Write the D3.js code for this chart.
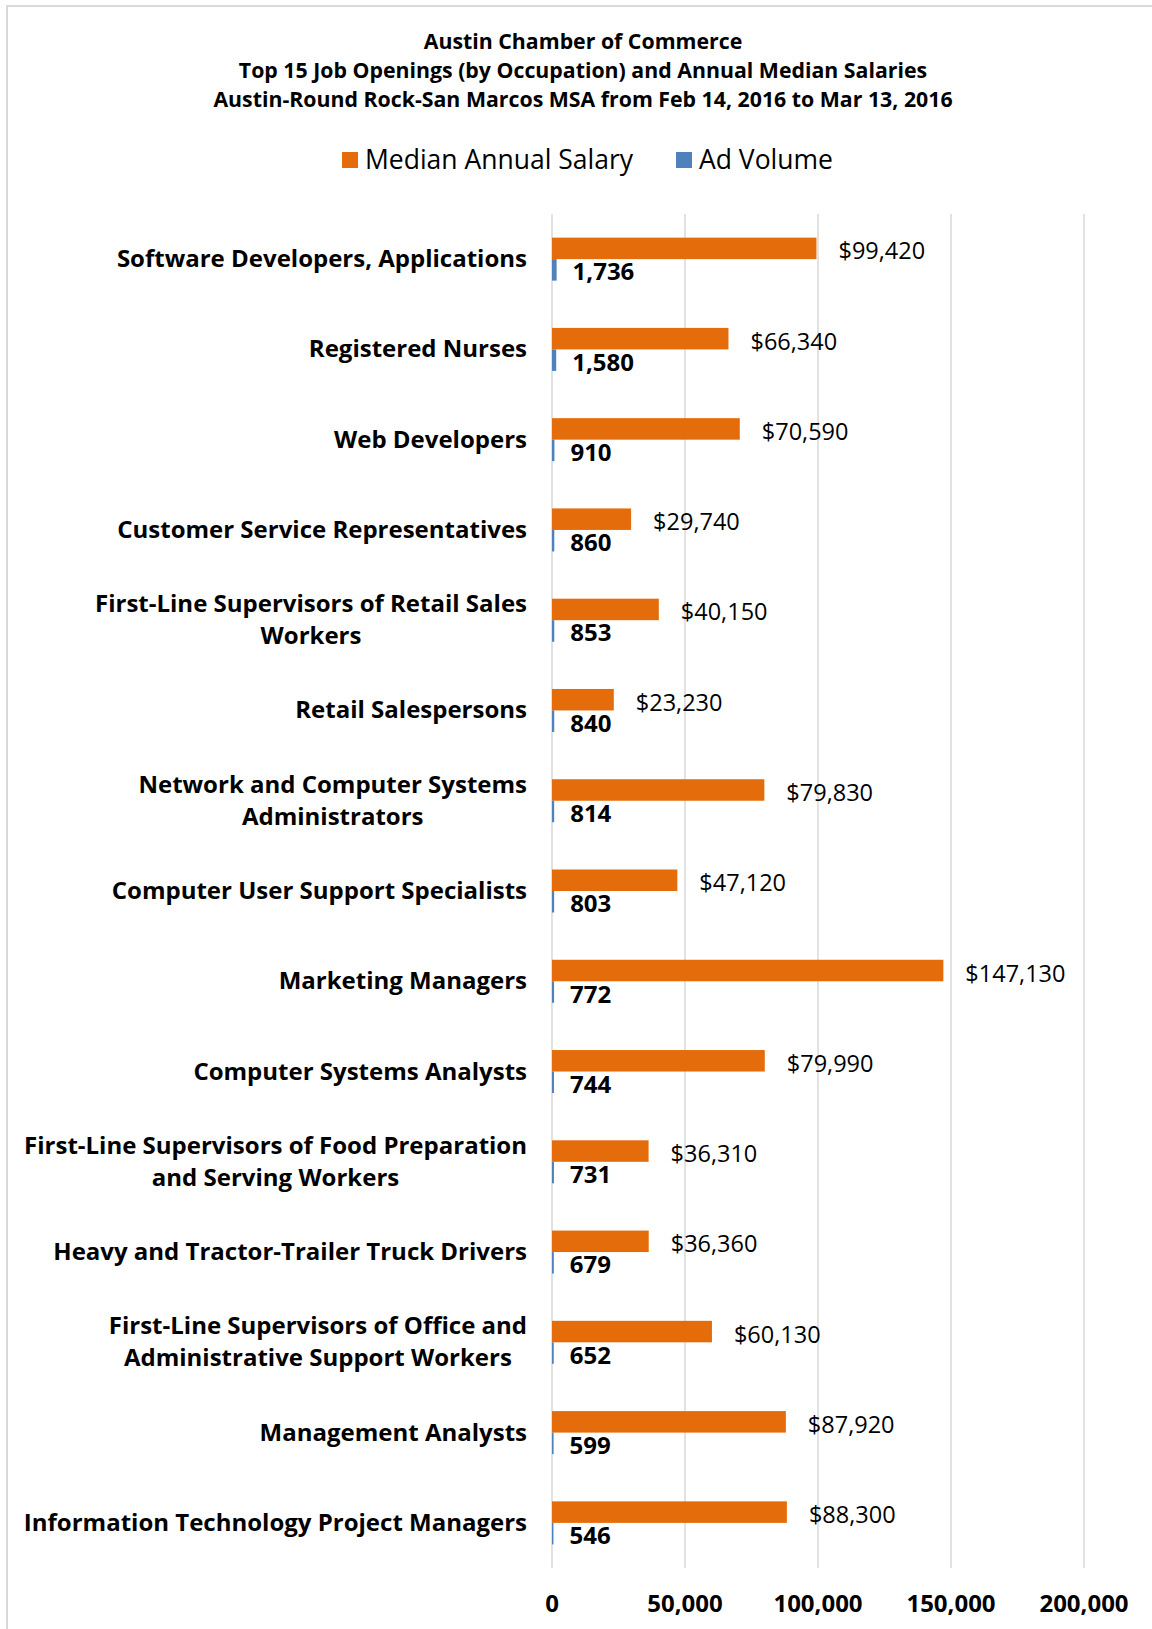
<!DOCTYPE html>
<html>
<head>
<meta charset="utf-8">
<script src="https://cdn.jsdelivr.net/npm/d3@7"></script>
<style>
  body { margin: 0; background: #ffffff; }
  text { font-family: "Open Sans", sans-serif; fill: #000000; }
</style>
</head>
<body>
<div id="canvas"></div>
<script>
"use strict";

/* Data */
let occupations = [
  "Software Developers, Applications",
  "Registered Nurses",
  "Web Developers",
  "Customer Service Representatives",
  "First-Line Supervisors of Retail Sales\nWorkers",
  "Retail Salespersons",
  "Network and Computer Systems\nAdministrators",
  "Computer User Support Specialists",
  "Marketing Managers",
  "Computer Systems Analysts",
  "First-Line Supervisors of Food Preparation\nand Serving Workers",
  "Heavy and Tractor-Trailer Truck Drivers",
  "First-Line Supervisors of Office and\nAdministrative Support Workers",
  "Management Analysts",
  "Information Technology Project Managers"
];
let medianSalary = [99420, 66340, 70590, 29740, 40150, 23230, 79830, 47120, 147130, 79990, 36310, 36360, 60130, 87920, 88300];
let adVolume = [1736, 1580, 910, 860, 853, 840, 814, 803, 772, 744, 731, 679, 652, 599, 546];
let xTicks = [0, 50000, 100000, 150000, 200000];
let seriesNames = ["Median Annual Salary", "Ad Volume"];
let titleLines = [
  "Austin Chamber of Commerce",
  "Top 15 Job Openings (by Occupation) and Annual Median Salaries",
  "Austin-Round Rock-San Marcos MSA from Feb 14, 2016 to Mar 13, 2016"
];

/* Drawing config */
let svgWidth = 1152;
let svgHeight = 1629;
let plotLeft = 552;
let plotRight = 1084;
let plotTop = 214;
let plotBottom = 1568;
let orange = "#E46C0A";
let blue = "#4F81BD";
let gridColor = "#D9D9D9";

let svg = d3.select("#canvas")
  .append("svg")
  .attr("width", svgWidth)
  .attr("height", svgHeight);

/* Chart border (cut off on right and bottom like the original) */
svg.append("rect")
  .attr("x", 7)
  .attr("y", 6)
  .attr("width", 1300)
  .attr("height", 1800)
  .attr("fill", "none")
  .attr("stroke", gridColor)
  .attr("stroke-width", 2);

/* Scales */
let xScale = d3.scaleLinear()
  .domain([0, 200000])
  .range([plotLeft, plotRight]);

let yScale = d3.scaleBand()
  .domain(occupations)
  .range([plotTop, plotBottom]);

// two bars per group, 43px total, centred in the band
let subScale = d3.scaleBand()
  .domain(seriesNames)
  .range([-21.5, 21.5]);

/* Gridlines */
svg.selectAll(".grid")
  .data(xTicks)
  .enter()
  .append("line")
  .attr("x1", d => xScale(d))
  .attr("x2", d => xScale(d))
  .attr("y1", plotTop)
  .attr("y2", plotBottom)
  .attr("stroke", gridColor)
  .attr("stroke-width", 1.5);

/* Tick labels */
svg.selectAll(".tick-label")
  .data(xTicks)
  .enter()
  .append("text")
  .attr("x", d => xScale(d))
  .attr("y", 1602)
  .attr("text-anchor", "middle")
  .attr("dominant-baseline", "central")
  .attr("font-size", "24px")
  .attr("font-weight", "bold")
  .text(d => d3.format(",")(d));

/* Bars */
let rows = occupations.map((name, i) => ({ name: name, salary: medianSalary[i], volume: adVolume[i] }));
let center = d => yScale(d.name) + yScale.bandwidth() / 2;

svg.selectAll(".salary-bar")
  .data(rows)
  .enter()
  .append("rect")
  .attr("x", xScale(0))
  .attr("y", d => center(d) + subScale(seriesNames[0]))
  .attr("width", d => xScale(d.salary) - xScale(0))
  .attr("height", subScale.bandwidth())
  .attr("fill", orange);

svg.selectAll(".volume-bar")
  .data(rows)
  .enter()
  .append("rect")
  .attr("x", xScale(0))
  .attr("y", d => center(d) + subScale(seriesNames[1]))
  .attr("width", d => xScale(d.volume) - xScale(0))
  .attr("height", subScale.bandwidth())
  .attr("fill", blue);

/* Value labels */
svg.selectAll(".salary-label")
  .data(rows)
  .enter()
  .append("text")
  .attr("x", d => xScale(d.salary) + 22)
  .attr("y", d => center(d) + subScale(seriesNames[0]) + subScale.bandwidth() / 2 + 2)
  .attr("dominant-baseline", "central")
  .attr("font-size", "23.5px")
  .text(d => "$" + d3.format(",")(d.salary));

svg.selectAll(".volume-label")
  .data(rows)
  .enter()
  .append("text")
  .attr("x", d => xScale(d.volume) + 16)
  .attr("y", d => center(d) + subScale(seriesNames[1]) + subScale.bandwidth() / 2 + 1)
  .attr("dominant-baseline", "central")
  .attr("font-size", "24px")
  .attr("font-weight", "bold")
  .text(d => d3.format(",")(d.volume));

/* Category labels: block right-aligned to the axis, lines centred inside the block */
let labelRight = 527;
let lineGap = 32;
rows.forEach(function (d) {
  let lines = d.name.split("\n");
  let g = svg.append("g");
  let texts = lines.map(function (line, i) {
    return g.append("text")
      .attr("y", center(d) - 1.5 + (i - (lines.length - 1) / 2) * lineGap)
      .attr("dominant-baseline", "central")
      .attr("text-anchor", "middle")
      .attr("font-size", "24px")
      .attr("font-weight", "bold")
      .text(line);
  });
  let widest = d3.max(texts, t => t.node().getComputedTextLength());
  texts.forEach(t => t.attr("x", labelRight - widest / 2));
});

/* Title */
svg.selectAll(".title")
  .data(titleLines)
  .enter()
  .append("text")
  .attr("x", 583)
  .attr("y", (d, i) => 40.5 + i * 29)
  .attr("text-anchor", "middle")
  .attr("dominant-baseline", "central")
  .attr("font-size", "21.3px")
  .attr("font-weight", "bold")
  .text(d => d);

/* Legend */
let legendItems = [
  { name: seriesNames[0], color: orange, x: 342 },
  { name: seriesNames[1], color: blue, x: 676 }
];
legendItems.forEach(function (item) {
  svg.append("rect")
    .attr("x", item.x)
    .attr("y", 152)
    .attr("width", 16)
    .attr("height", 16)
    .attr("fill", item.color);
  svg.append("text")
    .attr("x", item.x + 23)
    .attr("y", 159)
    .attr("dominant-baseline", "central")
    .attr("font-size", "26.5px")
    .text(item.name);
});
</script>
</body>
</html>
